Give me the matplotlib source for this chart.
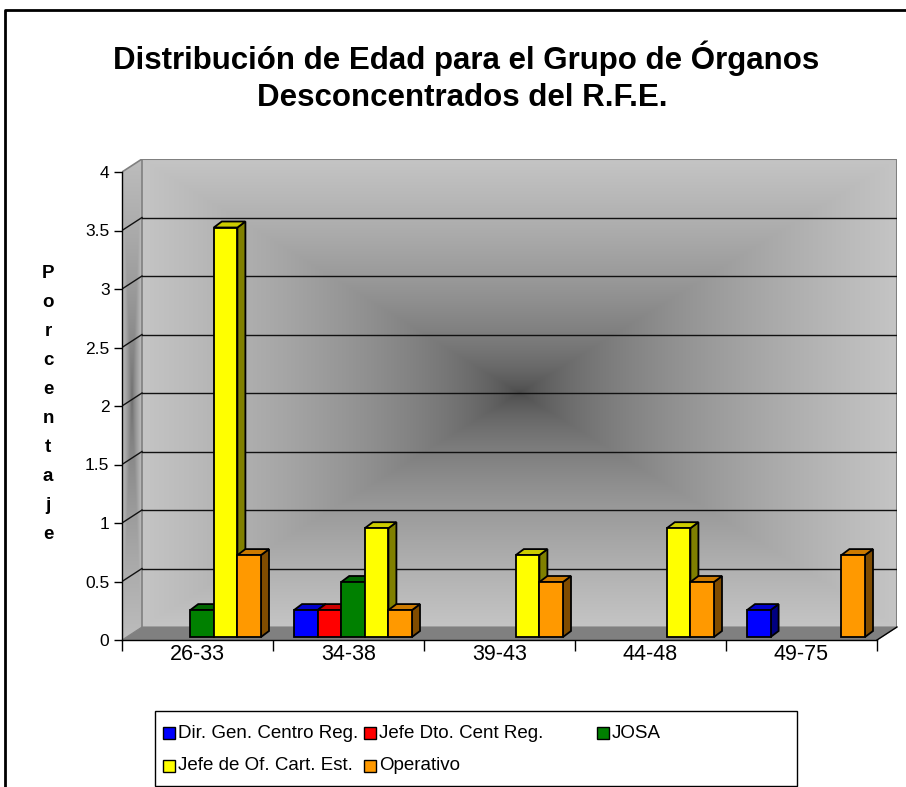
import numpy as np
import matplotlib
matplotlib.use('Agg')
import matplotlib.pyplot as plt
from matplotlib.patches import Polygon, Rectangle
from matplotlib.lines import Line2D

# ---------------- data ----------------
categories = ['26-33', '34-38', '39-43', '44-48', '49-75']
series_names = ['Dir. Gen. Centro Reg.', 'Jefe Dto. Cent Reg.', 'JOSA',
                'Jefe de Of. Cart. Est.', 'Operativo']
dir_gen = [0.0, 0.23, 0.0, 0.0, 0.23]
jefe_dto = [0.0, 0.23, 0.0, 0.0, 0.0]
josa = [0.23, 0.47, 0.0, 0.0, 0.0]
jefe_of = [3.5, 0.93, 0.70, 0.93, 0.0]
operativo = [0.70, 0.23, 0.47, 0.47, 0.70]
y_ticks = [0, 0.5, 1, 1.5, 2, 2.5, 3, 3.5, 4]
y_tick_labels = ['0', '0.5', '1', '1.5', '2', '2.5', '3', '3.5', '4']
title_lines = ['Distribución de Edad para el Grupo de Órganos',
               'Desconcentrados del R.F.E.']
ylabel = 'Porcentaje'

series = [dir_gen, jefe_dto, josa, jefe_of, operativo]
faces = ['#0000FF', '#FF0000', '#008000', '#FFFF00', '#FF9900']
tops = ['#0000CC', '#CC0000', '#006600', '#CCCC00', '#CC7A00']
sides = ['#000080', '#800000', '#004000', '#808000', '#804C00']

FONT = ['Liberation Sans', 'DejaVu Sans']
plt.rcParams['font.family'] = FONT

W, H = 906, 787
fig = plt.figure(figsize=(W / 100, H / 100), dpi=100)
fig.patch.set_facecolor('white')

def fx(px):
    return px / W

def fy(py):
    return 1 - py / H

# plot box in pixels: front axis x 122..877, y 640(0) .. 172(4)
px_left, px_right_front, px_bottom, px_top_front = 122, 877, 640, 172
DXp, DYp = 20, 13  # depth offset of the back wall in pixels
ux = (px_right_front - px_left) / 5.0   # px per category
uy = (px_bottom - px_top_front) / 4.0   # px per unit
ddx, ddy = DXp / ux, DYp / uy
ax_w = (px_right_front + DXp) - px_left
ax_h = px_bottom - (px_top_front - DYp)
ax = fig.add_axes([fx(px_left), fy(px_bottom), ax_w / W, ax_h / H])
ax.set_facecolor('none')

# ---------------- walls ----------------
def rect_gradient(nx, ny, light, dark, gamma=1.0):
    u = np.linspace(-1, 1, nx)[None, :]
    v = np.linspace(-1, 1, ny)[:, None]
    t = np.maximum(np.abs(u), np.abs(v))
    t = np.clip(t, 0, 1) ** gamma
    g = dark + (light - dark) * t
    return np.dstack([g, g, g])

back = rect_gradient(500, 400, 0.77, 0.28, gamma=0.6)
ax.imshow(back, extent=[ddx, 5 + ddx, ddy, 4 + ddy], origin='lower',
          aspect='auto', zorder=0, interpolation='bilinear')

side_img = rect_gradient(40, 400, 0.74, 0.42, gamma=0.7)
im = ax.imshow(side_img, extent=[0, ddx, 0, 4 + ddy], origin='lower',
               aspect='auto', zorder=0, interpolation='bilinear')
side_poly = Polygon([(0, 0), (ddx, ddy), (ddx, 4 + ddy), (0, 4)], closed=True,
                    facecolor='none', edgecolor='none', transform=ax.transData)
ax.add_patch(side_poly)
im.set_clip_path(side_poly)

floor = Polygon([(0, 0), (5, 0), (5 + ddx, ddy), (ddx, ddy)], closed=True,
                facecolor='#808080', edgecolor='#808080', lw=0.8, zorder=1)
ax.add_patch(floor)

# wall borders
ax.plot([ddx, 5 + ddx, 5 + ddx], [4 + ddy, 4 + ddy, ddy], color='#808080', lw=1.5, zorder=1)
ax.plot([0, ddx, ddx], [4, 4 + ddy, ddy], color='#808080', lw=1.2, zorder=1)

# gridlines
for v in y_ticks[1:-1]:
    ax.plot([ddx, 5 + ddx], [v + ddy, v + ddy], color='#111111', lw=1.0, zorder=1)
    ax.plot([0, ddx], [v, v + ddy], color='#111111', lw=1.0, zorder=1)

# ---------------- bars ----------------
n = len(series)
bw = 23.6 / ux
gap = 1 - n * bw
sx, sy = 4.5 / ux, 3.0 / uy       # bar placement inside the floor depth
bdx, bdy = 8.0 / ux, 6.0 / uy     # bar depth

for k, vals in enumerate(series):
    for i, h in enumerate(vals):
        if h <= 0:
            continue
        x0 = i + gap / 2 + k * bw + sx
        y0 = sy
        z = 3 + k * 0.01 + i
        side = Polygon([(x0 + bw, y0), (x0 + bw + bdx, y0 + bdy),
                        (x0 + bw + bdx, y0 + h + bdy), (x0 + bw, y0 + h)],
                       closed=True, facecolor=sides[k], edgecolor='black',
                       lw=1.3, zorder=z, joinstyle='miter')
        top = Polygon([(x0, y0 + h), (x0 + bw, y0 + h),
                       (x0 + bw + bdx, y0 + h + bdy), (x0 + bdx, y0 + h + bdy)],
                      closed=True, facecolor=tops[k], edgecolor='black',
                      lw=1.3, zorder=z, joinstyle='miter')
        front = Rectangle((x0, y0), bw, h, facecolor=faces[k], edgecolor='black',
                          lw=1.3, zorder=z + 0.001, joinstyle='miter')
        ax.add_patch(side)
        ax.add_patch(top)
        ax.add_patch(front)

# ---------------- axes ----------------
ax.set_xlim(0, 5 + ddx)
ax.set_ylim(0, 4 + ddy)
for s in ['top', 'right']:
    ax.spines[s].set_visible(False)
ax.spines['left'].set_bounds(0, 4)
ax.spines['bottom'].set_bounds(0, 5)
ax.spines['left'].set_linewidth(1.0)
ax.spines['bottom'].set_linewidth(1.0)
ax.plot([5, 5 + ddx], [0, ddy], color='black', lw=1.0, zorder=2, clip_on=False)

ax.set_yticks(y_ticks)
ax.set_yticklabels(y_tick_labels)
ax.tick_params(axis='y', length=6, width=1, labelsize=12.5, pad=3)
ax.set_xticks(np.arange(6))
ax.set_xticklabels([''] * 6)
ax.tick_params(axis='x', which='major', length=8, width=1)
ax.set_xticks(np.arange(5) + 0.5, minor=True)
ax.set_xticklabels(categories, minor=True)
ax.tick_params(axis='x', which='minor', length=0, labelsize=15.5, pad=3)

# ---------------- texts ----------------
fig.text(fx(466), fy(58), title_lines[0], ha='center', va='center',
         fontsize=22.5, fontweight='bold')
fig.text(fx(462), fy(98), title_lines[1], ha='center', va='center',
         fontsize=22.5, fontweight='bold')

for j, ch in enumerate(ylabel):
    fig.text(fx(48), fy(273 + j * 29.1), ch, ha='center', va='center',
             fontsize=13.5, fontweight='bold')

# outer frame
fig.add_artist(Line2D([fx(5), fx(5), 1.0], [0.0, fy(10), fy(10)],
                      transform=fig.transFigure, color='black', lw=2))

# ---------------- legend ----------------
lx0, lx1, ly0, ly1 = 155, 797, 711, 786
fig.add_artist(Rectangle((fx(lx0), fy(ly1)), (lx1 - lx0) / W, (ly1 - ly0) / H,
                         transform=fig.transFigure, facecolor='white',
                         edgecolor='black', lw=1))
col_x = [163, 364, 597]
row_y = [733, 766]
order = [(0, 0, 0), (1, 1, 0), (2, 2, 0), (3, 0, 1), (4, 1, 1)]
sq = 12
for k, c, r in order:
    x, y = col_x[c], row_y[r]
    fig.add_artist(Rectangle((fx(x), fy(y + sq / 2)), sq / W, sq / H,
                             transform=fig.transFigure, facecolor=faces[k],
                             edgecolor='black', lw=1))
    fig.text(fx(x + sq + 3), fy(y), series_names[k], ha='left', va='center',
             fontsize=13.5)

fig.savefig('out.png', dpi=100)
